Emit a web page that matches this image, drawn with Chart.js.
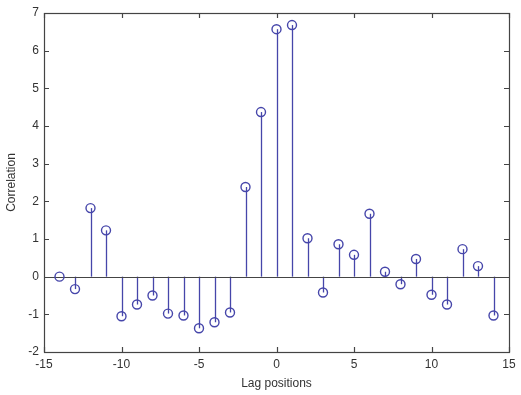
<!DOCTYPE html>
<html>
<head>
<meta charset="utf-8">
<script src="https://cdn.jsdelivr.net/npm/chart.js@4"></script>
<style>
  html, body { margin: 0; padding: 0; background: #fff; }
  #wrap { width: 521px; height: 395px; }
</style>
</head>
<body>
<div id="wrap"><canvas id="stem"></canvas></div>
<script>
// lags and correlation values
const lags = [-14, -13, -12, -11, -10, -9, -8, -7, -6, -5, -4, -3, -2, -1, 0, 1, 2, 3, 4, 5, 6, 7, 8, 9, 10, 11, 12, 13, 14];
const corr = [0, -0.33, 1.82, 1.23, -1.05, -0.74, -0.5, -0.98, -1.03, -1.37, -1.21, -0.95, 2.38, 4.37, 6.57, 6.68,
              1.02, -0.42, 0.86, 0.58, 1.67, 0.13, -0.2, 0.47, -0.48, -0.74, 0.73, 0.28, -1.03];
const xTicks = [-15, -10, -5, 0, 5, 10, 15];
const yTicks = [-2, -1, 0, 1, 2, 3, 4, 5, 6, 7];

const STEM = '#4646aa';
const AXIS = '#444';
const FONT = { family: 'Liberation Sans', size: 12 };

// stems + baseline, drawn under the markers
const stemPlugin = {
  id: 'stems',
  beforeDatasetsDraw(chart) {
    const { ctx, chartArea, scales: { x, y } } = chart;
    ctx.save();
    ctx.strokeStyle = STEM;
    ctx.lineWidth = 1.3;
    const y0 = y.getPixelForValue(0);
    lags.forEach((lag, i) => {
      const px = Math.round(x.getPixelForValue(lag)) + 0.5;
      ctx.beginPath();
      ctx.moveTo(px, y0);
      ctx.lineTo(px, y.getPixelForValue(corr[i]));
      ctx.stroke();
    });
    // baseline across the axes
    ctx.strokeStyle = AXIS;
    ctx.lineWidth = 1;
    ctx.beginPath();
    ctx.moveTo(chartArea.left, Math.round(y0) + 0.5);
    ctx.lineTo(chartArea.right, Math.round(y0) + 0.5);
    ctx.stroke();
    ctx.restore();
  },
  afterDraw(chart) {
    // matlab style box with inward ticks on all four sides
    const { ctx, chartArea: a, scales: { x, y } } = chart;
    ctx.save();
    ctx.strokeStyle = AXIS;
    ctx.lineWidth = 1.2;
    ctx.strokeRect(Math.round(a.left) + 0.5, Math.round(a.top) + 0.5,
                   Math.round(a.right - a.left), Math.round(a.bottom - a.top));
    const len = 5;
    ctx.beginPath();
    xTicks.forEach(v => {
      const px = Math.round(x.getPixelForValue(v)) + 0.5;
      ctx.moveTo(px, a.bottom); ctx.lineTo(px, a.bottom - len);
      ctx.moveTo(px, a.top); ctx.lineTo(px, a.top + len);
    });
    yTicks.forEach(v => {
      const py = Math.round(y.getPixelForValue(v)) + 0.5;
      ctx.moveTo(a.left, py); ctx.lineTo(a.left + len, py);
      ctx.moveTo(a.right, py); ctx.lineTo(a.right - len, py);
    });
    ctx.stroke();
    ctx.restore();
  }
};

new Chart(document.getElementById('stem'), {
  type: 'scatter',
  data: {
    datasets: [{
      data: lags.map((l, i) => ({ x: l, y: corr[i] })),
      showLine: false,
      pointStyle: 'circle',
      pointRadius: 4.5,
      pointHoverRadius: 4.5,
      pointBackgroundColor: 'rgba(0,0,0,0)',
      pointBorderColor: STEM,
      pointBorderWidth: 1.4
    }]
  },
  options: {
    responsive: true,
    maintainAspectRatio: false,
    animation: false,
    layout: { padding: { top: 13, right: 12, left: 0, bottom: 0 } },
    plugins: { legend: { display: false }, tooltip: { enabled: false } },
    scales: {
      x: {
        type: 'linear', min: -15, max: 15,
        afterBuildTicks: s => { s.ticks = xTicks.map(v => ({ value: v })); },
        afterFit: s => { s.height = 43; },
        grid: { drawOnChartArea: false, drawTicks: false },
        border: { display: false },
        ticks: { padding: 5, color: '#333', font: FONT },
        title: { display: true, text: 'Lag positions', color: '#333', padding: { top: 1 }, font: FONT }
      },
      y: {
        type: 'linear', min: -2, max: 7,
        afterBuildTicks: s => { s.ticks = yTicks.map(v => ({ value: v })); },
        afterFit: s => { s.width = 44; },
        grid: { drawOnChartArea: false, drawTicks: false },
        border: { display: false },
        ticks: { padding: 5, color: '#333', font: FONT },
        title: { display: true, text: 'Correlation', color: '#333', padding: { bottom: 2 }, font: FONT }
      }
    }
  },
  plugins: [stemPlugin]
});
</script>
</body>
</html>
